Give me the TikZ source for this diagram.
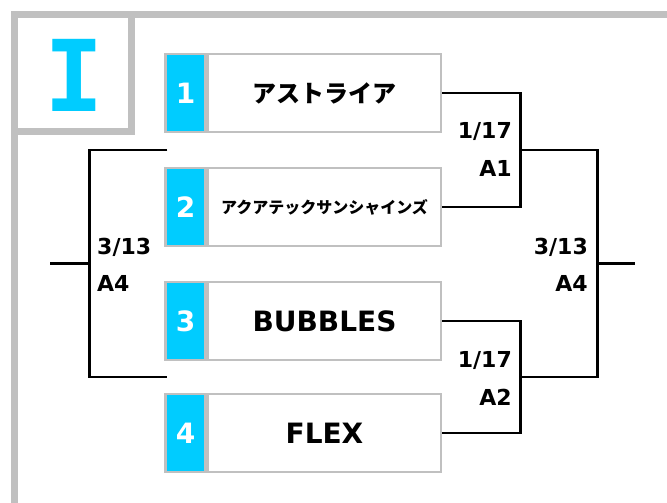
\documentclass[tikz,border=0pt]{standalone}
\usepackage{fontspec}
\setmainfont{DejaVu Sans}
\newfontfamily\jpfont{Noto Sans CJK JP}
\newfontfamily\slabfont{DejaVu Sans Mono}
\usepackage{tikz}
\usetikzlibrary{positioning, calc}
\definecolor{seedcyan}{RGB}{0,204,255}
\definecolor{framegray}{RGB}{192,192,192}

\tikzset{
    teambox/.style={draw=framegray, line width=2.5pt, fill=white, minimum width=233pt, minimum height=78pt, inner sep=0pt, font=\jpfont\bfseries},
    seedbox/.style={draw=framegray, line width=2.5pt, fill=seedcyan, minimum width=40pt, minimum height=78pt, inner sep=0pt, text=white, font=\fontsize{28}{28}\selectfont\bfseries},
    bracket/.style={line width=2.6pt, black},
    datelabel/.style={font=\fontsize{22}{22}\selectfont\bfseries, inner sep=0pt}
}

\begin{document}
\begin{tikzpicture}[x=1pt,y=-1pt]
    \useasboundingbox (0,0) rectangle (667,503);
    % Cornice del blocco
    \draw[framegray,line width=7pt] (14.5,503) -- (14.5,14.5) -- (667,14.5);
    \draw[framegray,line width=7pt] (11,131.5) -| (131.5,11);
    \node[text=seedcyan,font=\slabfont\bfseries\fontsize{99}{99}\selectfont,inner sep=0pt] (blk) at (74,75) {I};

    % Squadre
    \node[teambox,font=\jpfont\bfseries\fontsize{24}{24}\selectfont] (t1) at (324.5,93) {アストライア};
    \node[seedbox,left=0pt of t1] (s1) {1};
    \node[teambox,font=\jpfont\bfseries\fontsize{16}{16}\selectfont] (t2) at (324.5,207) {アクアテックサンシャインズ};
    \node[seedbox,left=0pt of t2] (s2) {2};
    \node[teambox,font=\fontsize{28}{28}\selectfont\bfseries] (t3) at (324.5,321) {BUBBLES};
    \node[seedbox,left=0pt of t3] (s3) {3};
    \node[teambox,font=\fontsize{28}{28}\selectfont\bfseries] (t4) at (324.5,433) {FLEX};
    \node[seedbox,left=0pt of t4] (s4) {4};

    % Primo turno
    \draw[bracket] (t1.east) -- ++(78,0) |- (t2.east);
    \draw[bracket] (t3.east) -- ++(78,0) |- (t4.east);
    \coordinate (w1) at ($(t1.east)!0.5!(t2.east)+(78,0)$);
    \coordinate (w2) at ($(t3.east)!0.5!(t4.east)+(78,0)$);

    % Finale
    \draw[bracket] (w1) -- ++(77,0) |- (w2);
    \coordinate (fin) at ($(w1)!0.5!(w2)+(77,0)$);
    \draw[bracket] (fin) -- ++(38,0);

    % Lato sinistro
    \coordinate (lt) at ($(s1.south west)!0.5!(s2.north west)+(3,0)$);
    \coordinate (lb) at ($(s3.south west)!0.5!(s4.north west)+(3,0)$);
    \draw[bracket] (lt) -- ++(-78,0) |- (lb);
    \coordinate (lm) at ($(lt)!0.5!(lb)+(-78,0)$);
    \draw[bracket] (lm) -- ++(-39,0);

    % Date e campi
    \node[datelabel,anchor=east] (d1) at (512,132) {1/17};
    \node[datelabel,anchor=east] (c1) at (512,168) {A1};
    \node[datelabel,anchor=east] (d2) at (512,360) {1/17};
    \node[datelabel,anchor=east] (c2) at (512,397) {A2};
    \node[datelabel,anchor=east] (d3) at (588,247) {3/13};
    \node[datelabel,anchor=east] (c3) at (588,283) {A4};
    \node[datelabel,anchor=west] (d4) at (97,247) {3/13};
    \node[datelabel,anchor=west] (c4) at (97,283) {A4};
\end{tikzpicture}
\end{document}
